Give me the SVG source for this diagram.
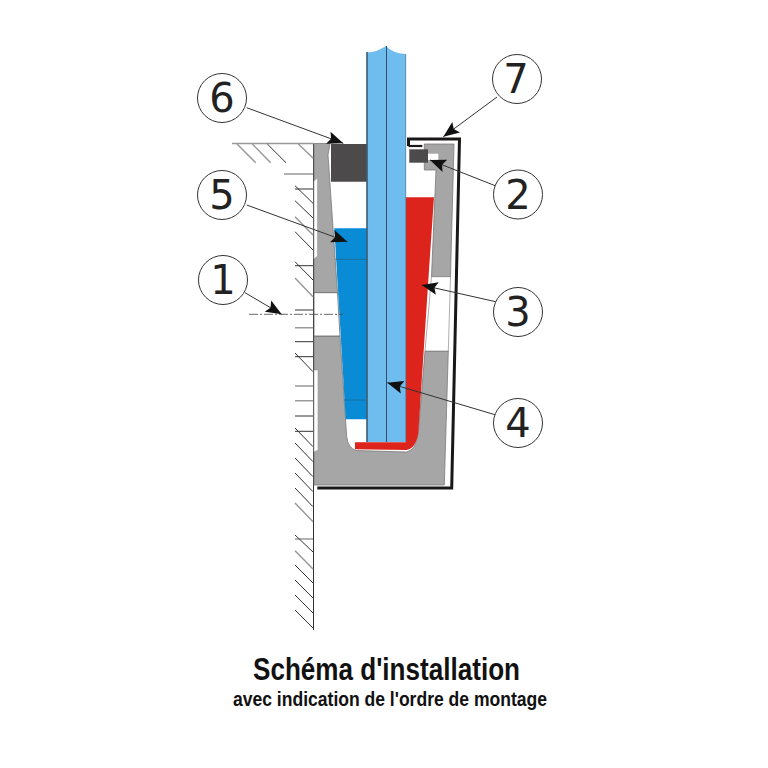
<svg xmlns="http://www.w3.org/2000/svg" width="768" height="768" viewBox="0 0 768 768">
<style>
.lbl{fill:#fff;stroke:#333;stroke-width:1}
.num{font-family:"DejaVu Sans",Verdana,sans-serif;font-size:40px;fill:#222;text-anchor:middle}
.h{stroke:#333;stroke-width:1;fill:none}
.hg{stroke:#999;stroke-width:1.5;fill:none}
.ar{stroke:#333;stroke-width:1;fill:none;marker-end:url(#head)}
.ttl{font-family:"Liberation Sans",Arial,sans-serif;font-weight:bold;fill:#111}
.gr{fill:#a6a6a6;stroke:#7a7a7a;stroke-width:.8}
</style>
<defs>
<marker id="head" markerUnits="userSpaceOnUse" markerWidth="18" markerHeight="14" refX="16" refY="7" orient="auto"><path d="M0 0.5L16 7L0 13.5L3 7Z" fill="#111"/></marker>
</defs>
<rect width="768" height="768" fill="#fff"/>
<g id="wall">
<path class="h" d="M313.5 143.5V630"/>
<path class="hg" d="M232 143.5H313.5M284 174H313"/>
<path class="h" d="M295 189H313M295 265.7H313M295 310H313M295 341.7H313M295 356.7H313M295 416H313M295 431.3H313"/>
<path class="hg" d="M295 327.7H313M295 386H313M295 400.7H313M295 539H313"/>
<path class="hg" d="M237 144L255.7 162.7M252.3 144L270.7 162.7M298.3 144L313.3 158.3M295 216.7L313 235M295 278L313 296.7M295 503L313 521.7M295 550.7L313 569"/>
<path class="h" d="M267.3 144L286 162.7M295 185.7L313 203.3M295 200.7L313 218M295 231.7L313 250M295 261.7L313 280M295 353L313 371.7M295 428L313 446.7M295 443L313 461.7M295 458L313 476.7M295 473L313 491.7M295 488L313 506.7M295 535L313 552M295 565L313 583M295 580L313 598M295 595L313 613M295 610L313 628"/>
</g>
<g id="profile">
<path class="gr" d="M314 143.5H330L328 155L337.5 292.7H314Z"/>
<path class="gr" d="M314 336H340L346.7 436.7Q348 448 356 450.5L406.7 452Q416 450 418.3 433L425 351H448.3L444.3 485H314Z"/>
<path class="gr" d="M424.3 144H454L450.5 276.7H431.5L436 170H424.3Z"/>
<path fill="#fff" stroke="#666" stroke-width=".8" d="M314 292.7H337.5L340 336H314Z"/>
<path fill="#fff" stroke="#777" stroke-width=".6" d="M431.5 276.7H450.5L448.3 351H425Z"/>
<path fill="#fff" stroke="#999" stroke-width=".6" d="M314 181L317.5 178V256L314 259ZM314 370H318V450L314 452Z"/>
</g>
<g id="seal-6"><path fill="#4d4a4b" d="M331 144H367V181.7H331Z"/></g>
<g id="blue-wedge">
<path fill="#0a8bd6" d="M334.3 228.3H367V419.3H345.7Z"/>
<path fill="none" stroke="#1c6d9e" stroke-width="1" d="M335.5 259.3H367M344 400H367"/>
</g>
<g id="red-wedge">
<path fill="#dc241c" d="M405.7 197.3H434L429 270L418.3 433Q416 448 406.7 450L355 449.3V442.3H405.7Z"/>
</g>
<g id="glass">
<path fill="#6fbdee" d="M367 51.7Q373 54 386 46Q392 53 405.7 54V442H367Z"/>
<path fill="none" stroke="#2f4f66" stroke-width="1" d="M386.5 46V442"/>
<path fill="none" stroke="#3c5a70" stroke-width="1.6" d="M367 52V442"/>
<path fill="none" stroke="#4a7a98" stroke-width=".8" d="M405.7 54V442"/>
</g>
<g id="cover">
<path fill="none" stroke="#1a1717" stroke-width="3" d="M408.5 146V139H459.5L451.7 488H317.3"/>
<path fill="none" stroke="#1a1717" stroke-width="2.2" d="M408.5 146H422.3"/>
</g>
<g id="seal-2">
<rect x="409.3" y="149.3" width="18.7" height="13.4" fill="#4d4a4b"/>
<rect x="428" y="153.7" width="10.3" height="6.3" fill="#fff"/>
</g>
<g id="connectors">
<path class="ar" d="M246.7 107.7L343.3 143.3"/>
<path class="ar" d="M246.7 205L347.3 241.7"/>
<path class="ar" d="M245 292.7L281.7 314.3"/>
<path class="ar" d="M497 97L443.3 136.7"/>
<path class="ar" d="M496 186L430 160"/>
<path class="ar" d="M497 302L421.7 285"/>
<path class="ar" d="M496 415L387.3 382.7"/>
<path d="M249 314.3H343" fill="none" stroke="#444" stroke-width=".8" stroke-dasharray="9 2 2 2"/>
</g>
<g id="n6"><circle class="lbl" cx="222" cy="98" r="24.5"/><text class="num" x="222" y="112">6</text></g>
<g id="n7"><circle class="lbl" cx="517" cy="79" r="24.5"/><text class="num" x="516" y="93.3">7</text></g>
<g id="n5"><circle class="lbl" cx="222" cy="195" r="24.5"/><text class="num" x="222" y="209">5</text></g>
<g id="n2"><circle class="lbl" cx="518" cy="194.5" r="24.5"/><text class="num" x="518" y="208.5">2</text></g>
<g id="n1"><circle class="lbl" cx="223" cy="280" r="24.5"/><text class="num" x="223" y="294">1</text></g>
<g id="n3"><circle class="lbl" cx="518" cy="312" r="24.5"/><text class="num" x="518" y="326">3</text></g>
<g id="n4"><circle class="lbl" cx="518" cy="423" r="24.5"/><text class="num" x="518" y="437">4</text></g>
<g id="title">
<text class="ttl" x="253" y="680" font-size="31" textLength="267" lengthAdjust="spacingAndGlyphs">Schéma d'installation</text>
<text class="ttl" x="233" y="705.5" font-size="20" textLength="314" lengthAdjust="spacingAndGlyphs">avec indication de l'ordre de montage</text>
</g>
</svg>
